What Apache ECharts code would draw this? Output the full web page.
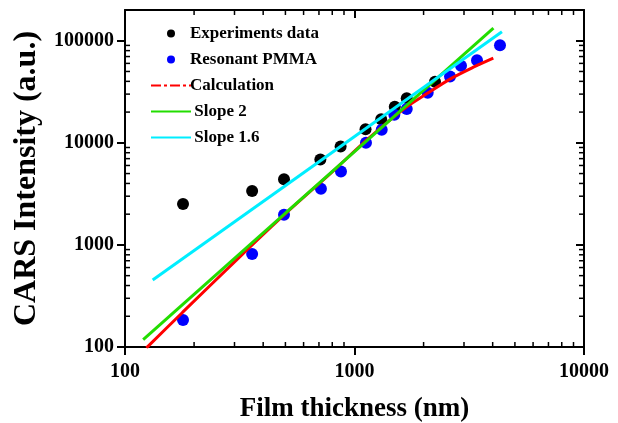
<!DOCTYPE html>
<html>
<head>
<meta charset="utf-8">
<script src="https://cdn.jsdelivr.net/npm/echarts@6/dist/echarts.min.js"></script>
<style>
  html, body { margin: 0; padding: 0; background: #fff; }
  #chart { width: 618px; height: 423px; }
</style>
</head>
<body>
<div id="chart"></div>
<script>
// values (film thickness in nm, intensity in a.u.)
var expData = [[179, 2520], [358, 3380], [493, 4400], [710, 6850], [870, 9200],
               [1117, 13600], [1307, 17000], [1498, 22500], [1689, 27400], [2243, 39600]];
var pmmaData = [[179, 184], [358, 816], [493, 1970], [714, 3540], [873, 5250],
                [1122, 10000], [1314, 13400], [1491, 18800], [1689, 21500], [2084, 30900],
                [2607, 44700], [2911, 56900], [3418, 64400], [4305, 90300]];
var calcData = [[124, 98], [178, 218], [317, 768], [500, 2020], [800, 5200], [1148, 11000],
                [1660, 21900], [2029, 29500], [2652, 43000], [3350, 56000], [4025, 67600]];
var slope2Data = [[120, 118], [4030, 133000]];
var slope16Data = [[132, 454], [4390, 122500]];

var xMajor = [100, 1000, 10000];
var yMajor = [100, 1000, 10000, 100000];
var xMinor = [200, 300, 400, 500, 600, 700, 800, 900, 2000, 3000, 4000, 5000, 6000, 7000, 8000, 9000];
var yMinor = [200, 300, 400, 500, 600, 700, 800, 900, 2000, 3000, 4000, 5000, 6000, 7000, 8000, 9000,
              20000, 30000, 40000, 50000, 60000, 70000, 80000, 90000];

var font = 'Liberation Serif';
var chart = echarts.init(document.getElementById('chart'));

// minor ticks, pointing inward on all four sides
function minorTicks(isX) {
  return function (params, api) {
    var cs = params.coordSys;
    var p = api.coord([api.value(0), api.value(1)]);
    var st = { stroke: '#000', lineWidth: 1.5 };
    var L = 5;
    if (isX) {
      return { type: 'group', children: [
        { type: 'line', shape: { x1: p[0], y1: cs.y + cs.height, x2: p[0], y2: cs.y + cs.height - L }, style: st },
        { type: 'line', shape: { x1: p[0], y1: cs.y, x2: p[0], y2: cs.y + L }, style: st }
      ]};
    }
    return { type: 'group', children: [
      { type: 'line', shape: { x1: cs.x, y1: p[1], x2: cs.x + L, y2: p[1] }, style: st },
      { type: 'line', shape: { x1: cs.x + cs.width, y1: p[1], x2: cs.x + cs.width - L, y2: p[1] }, style: st }
    ]};
  };
}

var axisLine = { show: true, lineStyle: { color: '#000', width: 2 } };
var plain = function (v) { return String(v); };
var noDot = { color: 'rgba(0,0,0,0)', borderWidth: 0 };

var option = {
  animation: false,
  backgroundColor: '#fff',
  grid: { left: 125, right: 34, top: 10, bottom: 76, outerBoundsMode: 'none' },
  legend: {
    orient: 'vertical',
    left: 145,
    top: 20,
    itemWidth: 40,
    itemHeight: 8,
    itemGap: 9,
    textStyle: { fontFamily: font, fontWeight: 'bold', fontSize: 17, color: '#000', padding: [0, 0, 0, -6] },
    data: [
      { name: 'Experiments data', icon: 'circle' },
      { name: 'Resonant PMMA', icon: 'circle' },
      { name: 'Calculation', lineStyle: { type: [10, 3, 3, 3] }, itemStyle: noDot },
      { name: ' Slope 2', itemStyle: noDot },
      { name: ' Slope 1.6', itemStyle: noDot }
    ]
  },
  xAxis: [{
    type: 'log', min: 100, max: 10000, position: 'bottom',
    name: 'Film thickness (nm)', nameLocation: 'middle', nameGap: 49,
    nameTextStyle: { fontFamily: font, fontWeight: 'bold', fontSize: 27, color: '#000' },
    axisLine: axisLine,
    axisTick: { inside: false, length: 8, lineStyle: { width: 2, color: '#000' }, customValues: xMajor },
    axisLabel: { fontFamily: font, fontWeight: 'bold', fontSize: 20, color: '#000', margin: 15, customValues: xMajor, formatter: plain },
    splitLine: { show: false }
  }, {
    type: 'log', min: 100, max: 10000, position: 'top',
    axisLine: axisLine,
    axisTick: { inside: true, length: 8, lineStyle: { width: 2, color: '#000' }, customValues: xMajor },
    axisLabel: { show: false },
    splitLine: { show: false }
  }],
  yAxis: [{
    type: 'log', min: 100, max: 200000, position: 'left',
    name: 'CARS Intensity (a.u.)', nameLocation: 'middle', nameGap: 80,
    nameTextStyle: { fontFamily: font, fontWeight: 'bold', fontSize: 32, color: '#000' },
    axisLine: axisLine,
    axisTick: { inside: false, length: 8, lineStyle: { width: 2, color: '#000' }, customValues: yMajor },
    axisLabel: { fontFamily: font, fontWeight: 'bold', fontSize: 20, color: '#000', margin: 11, customValues: yMajor, formatter: plain },
    splitLine: { show: false }
  }, {
    type: 'log', min: 100, max: 200000, position: 'right',
    axisLine: axisLine,
    axisTick: { inside: true, length: 8, lineStyle: { width: 2, color: '#000' }, customValues: yMajor },
    axisLabel: { show: false },
    splitLine: { show: false }
  }],
  series: [
    { type: 'custom', renderItem: minorTicks(true), data: xMinor.map(function (v) { return [v, 1000]; }), silent: true, z: 1 },
    { type: 'custom', renderItem: minorTicks(false), data: yMinor.map(function (v) { return [1000, v]; }), silent: true, z: 1 },
    { name: 'Experiments data', type: 'scatter', data: expData, symbolSize: 12, itemStyle: { color: '#000', opacity: 1 } },
    { name: 'Resonant PMMA', type: 'scatter', data: pmmaData, symbolSize: 12, itemStyle: { color: '#0000ff', opacity: 1 } },
    { name: 'Calculation', type: 'line', data: calcData, smooth: 0.3, symbol: 'none', lineStyle: { color: '#ff0000', width: 3 }, itemStyle: { color: '#ff0000' } },
    { name: ' Slope 2', type: 'line', data: slope2Data, symbol: 'none', lineStyle: { color: '#22dd00', width: 3 }, itemStyle: { color: '#22dd00' } },
    { name: ' Slope 1.6', type: 'line', data: slope16Data, symbol: 'none', lineStyle: { color: '#00eeff', width: 3 }, itemStyle: { color: '#00eeff' } }
  ]
};

chart.setOption(option);
</script>
</body>
</html>
